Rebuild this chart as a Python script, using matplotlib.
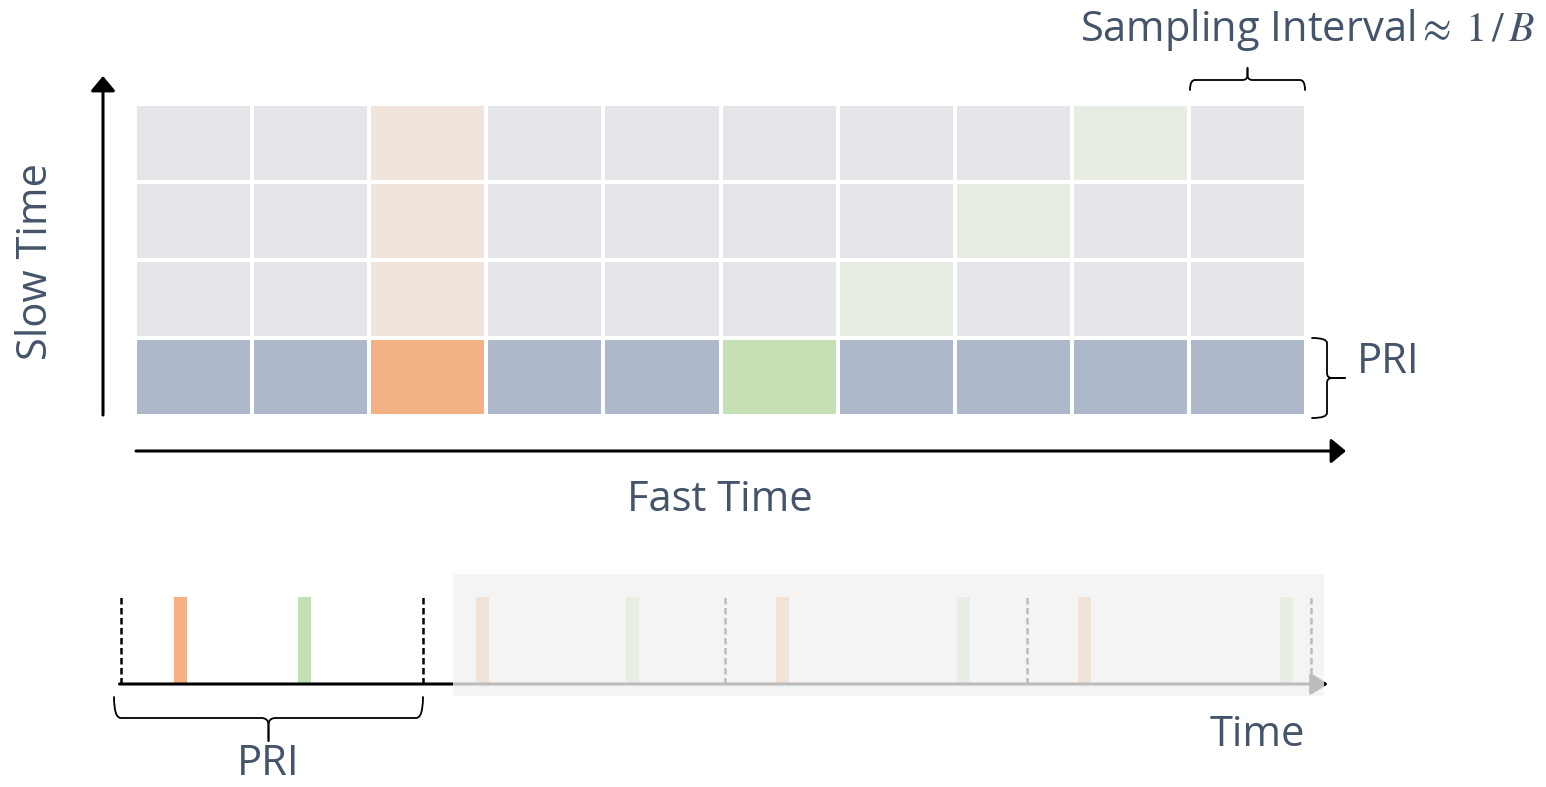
import numpy as np
import matplotlib
matplotlib.use('Agg')
import matplotlib.pyplot as plt
from matplotlib.colors import ListedColormap, BoundaryNorm
from matplotlib.patches import Rectangle
from matplotlib.path import Path
from matplotlib.patches import PathPatch

# categorias das celulas (linha 0 = primeiro PRI, embaixo)
# 0 cinza claro, 1 azul-cinza, 2 laranja, 3 verde, 4 laranja fraco, 5 verde fraco
cell_colors = ['#E4E5E9', '#ADB8CB', '#F4B183', '#C5E0B4', '#F1E4DA', '#E7EDE2']
grid_rows = [
    [1, 1, 2, 1, 1, 3, 1, 1, 1, 1],
    [0, 0, 4, 0, 0, 0, 5, 0, 0, 0],
    [0, 0, 4, 0, 0, 0, 0, 5, 0, 0],
    [0, 0, 4, 0, 0, 0, 0, 0, 5, 0],
]

# linha do tempo (unidades de PRI)
pri_edges = [0.0, 1.0, 2.0, 3.0, 3.94]
tx_starts = [0.175, 1.175, 2.17, 3.17]
echo_starts = [0.586, 1.672, 2.768, 3.838]
pulse_width = 0.043
fade_start, fade_end = 1.1, 3.983

text_color = '#44546A'
plt.rcParams['font.family'] = ['Open Sans', 'DejaVu Sans']
plt.rcParams['mathtext.fontset'] = 'stix'

W, H = 1546, 787
fig = plt.figure(figsize=(W / 100, H / 100), dpi=100)


def px_axes(x0, y0, x1, y1):
    # eixo posicionado em pixels (y de cima para baixo)
    return fig.add_axes([x0 / W, 1 - y1 / H, (x1 - x0) / W, (y1 - y0) / H])


# ---- grade rapido x lento ----
axg = px_axes(135, 104, 1306, 416)
cmap = ListedColormap(cell_colors)
norm = BoundaryNorm(np.arange(len(cell_colors) + 1) - 0.5, cmap.N)
axg.pcolormesh(np.array(grid_rows), cmap=cmap, norm=norm,
               edgecolors='white', linewidth=1.6)
axg.set_xlim(0, len(grid_rows[0]))
axg.set_ylim(0, len(grid_rows))
axg.axis('off')

# ---- linha do tempo ----
px_per_pri = 302
t0_px = 121
axt = px_axes(100, 560, 1346, 760)
axt.set_xlim((100 - t0_px) / px_per_pri, (1346 - t0_px) / px_per_pri)
axt.set_ylim((684 - 760) / 87, (684 - 560) / 87)
axt.axis('off')

axt.bar(tx_starts, 1, width=pulse_width, align='edge', color='#F4B183', zorder=2)
axt.bar(echo_starts, 1, width=pulse_width, align='edge', color='#C5E0B4', zorder=2)
axt.vlines(pri_edges, 0, 1, colors='black', linewidth=1.8,
           linestyles=(0, (2.6, 1.4)), zorder=2)
axt.annotate('', xy=(3.997, 0), xytext=(-0.005, 0),
             arrowprops=dict(arrowstyle='-|>,head_length=0.35,head_width=0.22',
                             lw=2.2, color='black', mutation_scale=30,
                             shrinkA=0, shrinkB=0), zorder=3)
axt.add_patch(Rectangle((fade_start, (684 - 696) / 87), fade_end - fade_start,
                        (696 - 574) / 87, facecolor='#F2F2F2', alpha=0.78,
                        edgecolor='none', zorder=5))

# ---- sobreposicao para setas, chaves e textos ----
ax = fig.add_axes([0, 0, 1, 1])
ax.set_xlim(0, W)
ax.set_ylim(H, 0)
ax.axis('off')

arrow = dict(arrowstyle='-|>,head_length=0.3,head_width=0.25', lw=2.2,
             color='black', mutation_scale=30, shrinkA=0, shrinkB=0)
ax.annotate('', xy=(103, 76), xytext=(103, 415), arrowprops=arrow)
ax.annotate('', xy=(1346, 451), xytext=(136, 451), arrowprops=arrow)


def brace(a, b, base, depth, tip, orient, r=5, lw=1.3):
    # chave entre a e b; base = posicao das pontas; orient define o lado
    L = b - a
    m = L / 2
    pts = [(0, 0), (0, depth), (r, depth), (m - r, depth), (m, depth), (m, depth + r),
           (m, depth + tip)]
    codes = [Path.MOVETO, Path.CURVE3, Path.CURVE3, Path.LINETO, Path.CURVE3,
             Path.CURVE3, Path.LINETO]
    right = [(L - u, v) for u, v in pts]
    for seg in (pts, right):
        xy = []
        for u, v in seg:
            if orient == 'up':
                xy.append((a + u, base - v))
            elif orient == 'down':
                xy.append((a + u, base + v))
            else:
                xy.append((base + v, a + u))
        ax.add_patch(PathPatch(Path(xy, codes), fill=False, lw=lw,
                               edgecolor='black', capstyle='round'))


brace(1190, 1305, 90, 10, 12, 'up')
brace(338, 418, 1312, 15, 18, 'right')
brace(114, 423, 697, 21, 23, 'down', r=7)

ax.text(36, 262, 'Slow Time', rotation=90, ha='center', va='center',
        fontsize=30, color=text_color)
ax.text(720, 500, 'Fast Time', ha='center', va='center', fontsize=30,
        color=text_color)
ax.text(1080, 30, 'Sampling Interval' + r'$\approx\;1\,/\,B$', ha='left',
        va='center', fontsize=30, color=text_color)
ax.text(1357, 362, 'PRI', ha='left', va='center', fontsize=30, color=text_color)
ax.text(1257, 735, 'Time', ha='center', va='center', fontsize=30, color=text_color)
ax.text(268, 785, 'PRI', ha='center', va='bottom', fontsize=30, color=text_color)

fig.savefig('out.png', dpi=100)
